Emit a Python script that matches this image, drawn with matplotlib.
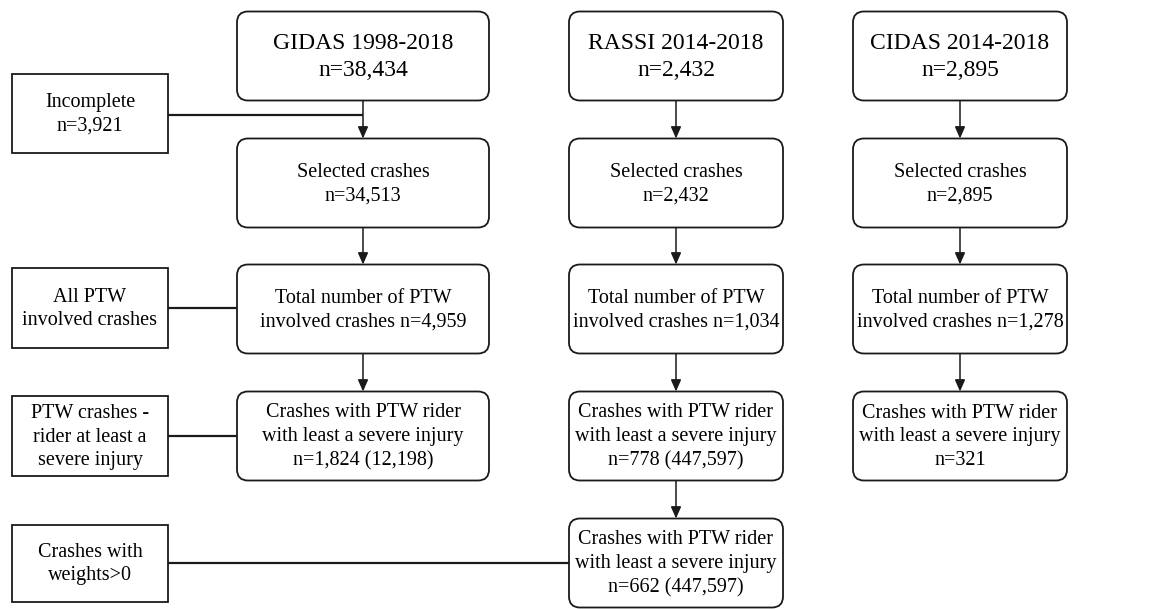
import matplotlib
matplotlib.use("Agg")
import matplotlib.pyplot as plt
from matplotlib.patches import FancyBboxPatch, Rectangle

# --------------------------------------------------------------
# Flowchart content
# --------------------------------------------------------------
gidas_labels = [
    "GIDAS 1998-2018\nn=38,434",
    "Selected crashes\nn=34,513",
    "Total number of PTW\ninvolved crashes n=4,959",
    "Crashes with PTW rider\nwith least a severe injury\nn=1,824 (12,198)",
]
rassi_labels = [
    "RASSI 2014-2018\nn=2,432",
    "Selected crashes\nn=2,432",
    "Total number of PTW\ninvolved crashes n=1,034",
    "Crashes with PTW rider\nwith least a severe injury\nn=778 (447,597)",
    "Crashes with PTW rider\nwith least a severe injury\nn=662 (447,597)",
]
cidas_labels = [
    "CIDAS 2014-2018\nn=2,895",
    "Selected crashes\nn=2,895",
    "Total number of PTW\ninvolved crashes n=1,278",
    "Crashes with PTW rider\nwith least a severe injury\nn=321",
]
side_labels = [
    "Incomplete\nn=3,921",
    "All PTW\ninvolved crashes",
    "PTW crashes -\nrider at least a\nsevere injury",
    "Crashes with\nweights>0",
]

# --------------------------------------------------------------
# Layout (pixel coordinates, y downwards)
# --------------------------------------------------------------
W, H = 1157, 609
col_x = [363, 676, 960]
col_w = [252, 214, 214]
row_y = [56, 183, 309, 436, 563]
box_h = 89

side_x0, side_x1 = 12, 168
side_y = [113, 308, 436, 563]
side_h = [79, 80, 80, 77]

FONT = "Liberation Serif"
EDGE = "#1a1a1a"

fig = plt.figure(figsize=(W / 100, H / 100), dpi=100)
ax = fig.add_axes([0, 0, 1, 1])
ax.set_xlim(0, W)
ax.set_ylim(H, 0)
ax.axis("off")


def main_box(cx, cy, w, text, size):
    ax.add_patch(FancyBboxPatch((cx - w / 2, cy - box_h / 2), w, box_h,
                                boxstyle="round,pad=0,rounding_size=11",
                                fc="white", ec=EDGE, lw=1.3, zorder=2))
    ax.text(cx, cy + 1, text, ha="center", va="center", fontsize=size,
            family=FONT, linespacing=1.35, zorder=3)


def arrow(x, y0, y1):
    ax.annotate("", xy=(x, y1), xytext=(x, y0),
                arrowprops=dict(arrowstyle="-|>,head_length=0.5,head_width=0.22",
                                color=EDGE, lw=1.1, shrinkA=0, shrinkB=0,
                                mutation_scale=14), zorder=1)


for ci, labels in enumerate([gidas_labels, rassi_labels, cidas_labels]):
    for ri, lab in enumerate(labels):
        main_box(col_x[ci], row_y[ri], col_w[ci], lab, 17 if ri == 0 else 14.5)
        if ri > 0:
            arrow(col_x[ci], row_y[ri - 1] + box_h / 2, row_y[ri] - box_h / 2)

# side boxes (square corners)
for lab, cy, h in zip(side_labels, side_y, side_h):
    ax.add_patch(Rectangle((side_x0, cy - h / 2), side_x1 - side_x0, h,
                           fc="white", ec=EDGE, lw=1.3, zorder=2))
    ax.text((side_x0 + side_x1) / 2, cy + 1, lab, ha="center", va="center",
            fontsize=14.5, family=FONT, linespacing=1.35, zorder=3)

# connectors from side boxes
targets = [
    (col_x[0], 115),
    (col_x[0] - col_w[0] / 2, side_y[1]),
    (col_x[0] - col_w[0] / 2, side_y[2]),
    (col_x[1] - col_w[1] / 2, side_y[3]),
]
for (tx, ty) in targets:
    ax.plot([side_x1, tx], [ty, ty], color=EDGE, lw=1.6, zorder=1,
            solid_capstyle="butt")

fig.savefig("out.png", dpi=100, facecolor="white")
